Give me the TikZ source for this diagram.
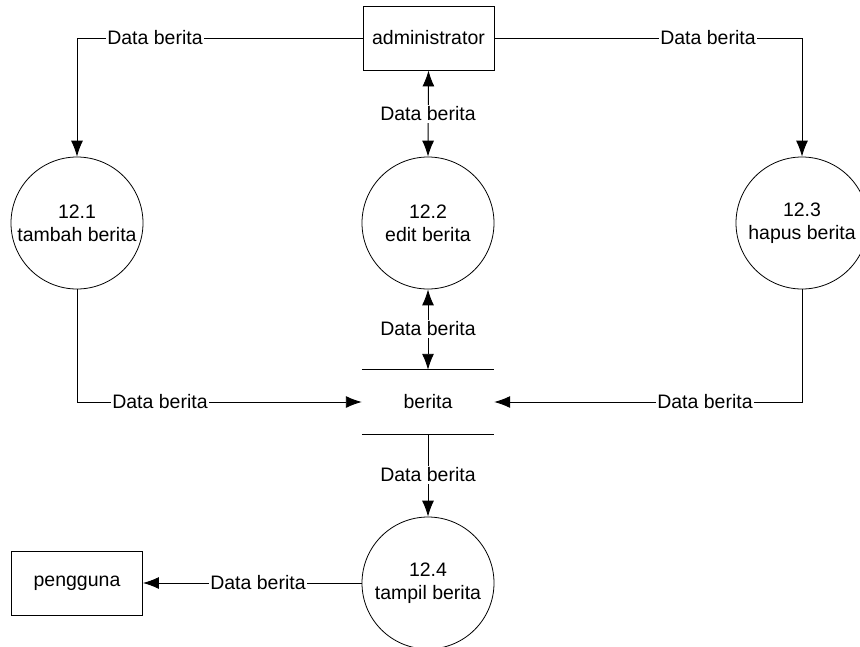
\documentclass[tikz,border=0pt]{standalone}
\usepackage{fontspec}
\setmainfont{Liberation Sans}
\usetikzlibrary{arrows.meta}
\begin{document}
\begin{tikzpicture}[x=1pt,y=-1pt,
  every node/.style={font=\fontsize{19.5}{23}\selectfont},
  entity/.style={draw,line width=0.9pt,minimum width=131pt,minimum height=64pt,inner sep=0pt},
  proc/.style={draw,line width=0.8pt,circle,minimum size=132pt,inner sep=0pt,align=center},
  store/.style={minimum width=132pt,minimum height=64pt,inner sep=0pt},
  flow/.style={line width=0.9pt,-{Latex[length=16pt,width=12pt]}},
  bflow/.style={line width=0.9pt,{Latex[length=16pt,width=12pt]}-{Latex[length=16pt,width=12pt]}},
  lbl/.style={fill=white,inner sep=1.5pt}]
\useasboundingbox (0,0) rectangle (860,646);
\node[entity] (admin) at (428.5,38) {administrator};
\node[entity] (user) at (77,583) {pengguna};
\node[proc] (p1) at (77,223) {12.1\\tambah berita};
\node[proc] (p2) at (428,223) {12.2\\edit berita};
\node[proc] (p3) at (802,223) {12.3\\hapus berita};
\node[proc] (p4) at (428,583) {12.4\\tampil berita};
\node[store] (st) at (428,402) {berita};
\draw[line width=0.9pt] (st.north west) -- (st.north east);
\draw[line width=0.9pt] (st.south west) -- (st.south east);

\draw[flow] (admin.west) -| (p1.north);
\draw[flow] (admin.east) -| (p3.north);
\draw[bflow] (admin.south) -- (p2.north);
\draw[bflow] (p2.south) -- (st.north);
\draw[flow] (p1.south) |- (st.west);
\draw[flow] (p3.south) |- (st.east);
\draw[flow] (st.south) -- (p4.north);
\draw[flow] (p4.west) -- (user.east);

\node[lbl] (l1) at (155,38) {Data berita};
\node[lbl] (l2) at (708,38) {Data berita};
\node[lbl] (l3) at (428,114) {Data berita};
\node[lbl] (l4) at (428,329) {Data berita};
\node[lbl] (l5) at (160,402) {Data berita};
\node[lbl] (l6) at (705,402) {Data berita};
\node[lbl] (l7) at (428,475) {Data berita};
\node[lbl] (l8) at (258,583) {Data berita};
\end{tikzpicture}
\end{document}
